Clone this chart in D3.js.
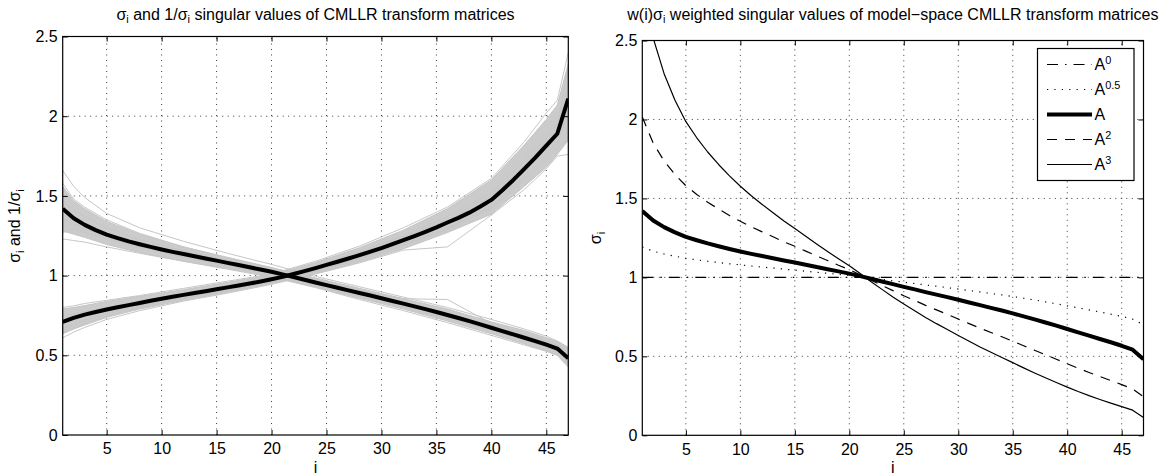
<!DOCTYPE html>
<html>
<head>
<meta charset="utf-8">
<script src="https://cdn.jsdelivr.net/npm/d3@7"></script>
<style>
  body { margin: 0; background: #fff; }
  svg text { font-family: "Liberation Sans", Arial, Helvetica, sans-serif; fill: #000; }
</style>
</head>
<body>
<svg id="fig" width="1159" height="475"></svg>
<script>
// ---- data -------------------------------------------------------------
const indexI = [1,2,3,4,5,6,7,8,9,10,11,12,13,14,15,16,17,18,19,20,21,22,23,24,
                25,26,27,28,29,30,31,32,33,34,35,36,37,38,39,40,41,42,43,44,45,46,47];

// mean singular values (increasing) and mean reciprocal (decreasing)
const meanSigma = [0.710,0.735,0.755,0.772,0.787,0.801,0.815,0.828,0.842,0.855,0.867,0.879,
                   0.891,0.902,0.914,0.926,0.938,0.950,0.963,0.977,0.992,1.010,1.028,1.047,
                   1.067,1.087,1.107,1.128,1.150,1.173,1.197,1.222,1.248,1.275,1.303,1.333,
                   1.362,1.395,1.433,1.475,1.535,1.600,1.670,1.740,1.815,1.890,2.110];
const meanInvSigma = [1.420,1.360,1.318,1.285,1.257,1.235,1.215,1.197,1.180,1.164,1.149,1.135,
                      1.121,1.107,1.094,1.080,1.066,1.052,1.038,1.024,1.008,0.991,0.974,0.957,
                      0.940,0.924,0.907,0.891,0.875,0.858,0.841,0.824,0.807,0.790,0.772,0.753,
                      0.734,0.714,0.694,0.673,0.652,0.631,0.610,0.589,0.567,0.542,0.482];

// per-speaker curves, sampled at these indices
const sampleI = [1,2,3,5,8,12,16,20,24,28,32,36,40,43,45,46,47];
const sigmaBandLo = [0.635,0.665,0.690,0.738,0.790,0.845,0.895,0.950,1.013,1.085,1.168,1.270,1.385,1.560,1.680,1.760,1.850];
const sigmaBandHi = [0.790,0.800,0.812,0.838,0.870,0.912,0.958,1.005,1.082,1.175,1.285,1.420,1.600,1.820,1.980,2.070,2.330];
const invBandLo   = [1.280,1.260,1.240,1.195,1.145,1.090,1.045,0.995,0.928,0.858,0.790,0.715,0.635,0.572,0.528,0.500,0.435];
const invBandHi   = [1.560,1.470,1.420,1.340,1.260,1.180,1.110,1.050,0.985,0.920,0.855,0.790,0.710,0.655,0.610,0.585,0.545];

const sigmaSpeakers = [
  [0.800,0.810,0.825,0.845,0.875,0.920,0.965,1.010,1.090,1.185,1.300,1.430,1.610,1.840,2.020,2.100,2.400],
  [0.610,0.645,0.675,0.725,0.780,0.840,0.890,0.945,1.010,1.080,1.160,1.180,1.380,1.540,1.670,1.750,1.760],
  [0.745,0.760,0.775,0.800,0.840,0.890,0.940,0.990,1.060,1.150,1.250,1.370,1.520,1.720,1.870,1.950,2.300],
  [0.665,0.695,0.720,0.760,0.810,0.862,0.910,0.965,1.030,1.110,1.200,1.300,1.430,1.620,1.760,1.830,2.020],
  [0.725,0.750,0.770,0.795,0.835,0.885,0.935,0.985,1.055,1.140,1.240,1.350,1.500,1.690,1.840,1.920,2.200],
  [0.640,0.670,0.700,0.745,0.800,0.855,0.905,0.960,1.025,1.100,1.190,1.290,1.420,1.600,1.730,1.800,1.860]
];
const invSpeakers = [
  [1.660,1.560,1.490,1.390,1.300,1.215,1.140,1.070,0.995,0.930,0.865,0.800,0.725,0.665,0.620,0.590,0.550],
  [1.230,1.220,1.210,1.180,1.140,1.090,1.040,0.990,0.925,0.850,0.780,0.705,0.625,0.565,0.525,0.500,0.425],
  [1.580,1.480,1.430,1.350,1.265,1.180,1.115,1.050,0.975,0.905,0.855,0.850,0.700,0.635,0.595,0.565,0.520],
  [1.270,1.290,1.270,1.230,1.175,1.115,1.060,1.005,0.940,0.870,0.800,0.730,0.655,0.595,0.550,0.525,0.460],
  [1.470,1.410,1.370,1.300,1.225,1.155,1.095,1.035,0.965,0.900,0.835,0.765,0.690,0.625,0.585,0.560,0.500],
  [1.360,1.320,1.290,1.240,1.180,1.120,1.065,1.015,0.945,0.880,0.812,0.740,0.660,0.600,0.555,0.530,0.470]
];

// weighted singular values, one series per weighting exponent
const weightA0 = [1,1,1,1,1,1,1,1,1,1,1,1,1,1,1,1,1,1,1,1,1,1,1,1,
                  1,1,1,1,1,1,1,1,1,1,1,1,1,1,1,1,1,1,1,1,1,1,1];
const weightA05 = [1.192,1.166,1.148,1.134,1.121,1.111,1.102,1.094,1.086,1.079,1.072,1.065,
                   1.059,1.052,1.046,1.039,1.032,1.026,1.019,1.012,1.004,0.995,0.987,0.978,
                   0.970,0.961,0.952,0.944,0.935,0.926,0.917,0.908,0.898,0.889,0.879,0.868,
                   0.857,0.845,0.833,0.820,0.807,0.794,0.781,0.767,0.753,0.736,0.700];
const weightA1 = meanInvSigma;
const weightA2 = [2.016,1.850,1.737,1.651,1.580,1.525,1.476,1.433,1.392,1.355,1.320,1.288,
                  1.257,1.225,1.197,1.166,1.136,1.107,1.077,1.049,1.016,0.982,0.949,0.916,
                  0.884,0.854,0.823,0.794,0.766,0.736,0.707,0.679,0.651,0.624,0.596,0.567,
                  0.539,0.510,0.482,0.453,0.425,0.398,0.372,0.347,0.321,0.294,0.245];
const weightA3 = [2.863,2.515,2.290,2.122,1.986,1.884,1.794,1.715,1.643,1.577,1.517,1.462,
                  1.409,1.357,1.309,1.260,1.211,1.164,1.118,1.074,1.024,0.973,0.924,0.876,
                  0.831,0.789,0.746,0.707,0.670,0.632,0.595,0.559,0.526,0.493,0.460,0.427,
                  0.395,0.364,0.334,0.305,0.277,0.251,0.227,0.204,0.182,0.159,0.112];

const xTickValues = [5,10,15,20,25,30,35,40,45];
const yTickValues = [0,0.5,1,1.5,2,2.5];
const legendExponents = ["0","0.5","","2","3"];

// ---- drawing ----------------------------------------------------------
const FONT = 16;
const svg = d3.select("#fig");
const defs = svg.append("defs");

// text with sub/superscript runs: [{t, sub:true}|{t, sup:true}|{t}]
function richText(sel, runs, size) {
  let shift = 0;
  runs.forEach(r => {
    const target = r.sub ? 3.5 : r.sup ? -6.5 : 0;
    sel.append("tspan")
      .attr("dy", target - shift)
      .attr("font-size", (r.sub || r.sup) ? size * 0.68 : size)
      .text(r.t);
    shift = target;
  });
}

function panel(cfg) {
  const g = svg.append("g");
  const x = d3.scaleLinear().domain([1, 47]).range([cfg.left, cfg.right]);
  const y = d3.scaleLinear().domain([0, 2.5]).range([cfg.bottom, cfg.top]);

  defs.append("clipPath").attr("id", cfg.id + "-clip")
    .append("rect")
    .attr("x", cfg.left).attr("y", cfg.top)
    .attr("width", cfg.right - cfg.left).attr("height", cfg.bottom - cfg.top);

  // dotted grid
  const grid = g.append("g")
    .attr("stroke", "#3a3a3a").attr("stroke-width", 1)
    .attr("stroke-dasharray", "1,4.5");
  grid.selectAll("line.v").data(xTickValues).join("line").attr("class", "v")
    .attr("x1", d => x(d)).attr("x2", d => x(d))
    .attr("y1", y(0)).attr("y2", y(2.5));
  grid.selectAll("line.h").data(yTickValues.filter(v => v > 0 && v < 2.5)).join("line").attr("class", "h")
    .attr("x1", x(1)).attr("x2", x(47))
    .attr("y1", d => y(d)).attr("y2", d => y(d));

  const plot = g.append("g").attr("clip-path", `url(#${cfg.id}-clip)`);

  return { g, x, y, plot, cfg };
}

function finishAxes(p, titleRuns, ylabelRuns, ylabelX, ylabelY) {
  const { g, x, y, cfg } = p;
  const styleAxis = a => {
    a.select(".domain").remove();
    a.attr("font-size", FONT).attr("font-family", null);
    a.selectAll(".tick line").attr("stroke", "#000");
  };
  g.append("g").attr("transform", `translate(0,${cfg.bottom})`)
    .call(d3.axisBottom(x).tickValues(xTickValues).tickSizeInner(-5).tickSizeOuter(0).tickPadding(8))
    .call(styleAxis);
  g.append("g").attr("transform", `translate(0,${cfg.top})`)
    .call(d3.axisTop(x).tickValues(xTickValues).tickSizeInner(-5).tickSizeOuter(0).tickFormat(""))
    .call(styleAxis);
  g.append("g").attr("transform", `translate(${cfg.left},0)`)
    .call(d3.axisLeft(y).tickValues(yTickValues).tickSizeInner(-5).tickSizeOuter(0).tickPadding(5).tickFormat(d => String(d)))
    .call(styleAxis);
  g.append("g").attr("transform", `translate(${cfg.right},0)`)
    .call(d3.axisRight(y).tickValues(yTickValues).tickSizeInner(-5).tickSizeOuter(0).tickFormat(""))
    .call(styleAxis);

  g.append("rect")
    .attr("x", cfg.left).attr("y", cfg.top)
    .attr("width", cfg.right - cfg.left).attr("height", cfg.bottom - cfg.top)
    .attr("fill", "none").attr("stroke", "#000").attr("stroke-width", 1.2);

  const mid = (cfg.left + cfg.right) / 2;
  const t = g.append("text").attr("x", mid).attr("y", 19.5)
    .attr("text-anchor", "middle").attr("font-size", FONT);
  richText(t, titleRuns, FONT);

  g.append("text").attr("x", mid).attr("y", 473)
    .attr("text-anchor", "middle").attr("font-size", FONT).text("i");

  const yl = g.append("text")
    .attr("transform", `translate(${ylabelX},${ylabelY}) rotate(-90)`)
    .attr("text-anchor", "middle").attr("font-size", FONT);
  richText(yl, ylabelRuns, FONT);
}

// ---------- left panel: sigma and 1/sigma ----------
const L = panel({ id: "left", left: 62.7, right: 568.3, top: 36.5, bottom: 435 });

const bandArea = d3.area()
  .x((d, k) => L.x(sampleI[k]))
  .y0(d => L.y(d[0])).y1(d => L.y(d[1]));
const sampleLine = d3.line().x((d, k) => L.x(sampleI[k])).y(d => L.y(d));

[[sigmaBandLo, sigmaBandHi], [invBandLo, invBandHi]].forEach(([lo, hi]) => {
  L.plot.append("path")
    .datum(lo.map((v, k) => [v, hi[k]]))
    .attr("d", bandArea)
    .attr("fill", "#cbcbcb").attr("stroke", "#c4c4c4").attr("stroke-width", 1);
});
sigmaSpeakers.concat(invSpeakers).forEach(s => {
  L.plot.append("path").datum(s).attr("d", sampleLine)
    .attr("fill", "none").attr("stroke", "#c6c6c6").attr("stroke-width", 1);
});

const meanLineL = d3.line().x((d, k) => L.x(indexI[k])).y(d => L.y(d));
[meanSigma, meanInvSigma].forEach(s => {
  L.plot.append("path").datum(s).attr("d", meanLineL)
    .attr("fill", "none").attr("stroke", "#000").attr("stroke-width", 4)
    .attr("stroke-linejoin", "round");
});

finishAxes(L,
  [{ t: "σ" }, { t: "i", sub: true }, { t: " and 1/σ" }, { t: "i", sub: true },
   { t: " singular values of CMLLR transform matrices" }],
  [{ t: "σ" }, { t: "i", sub: true }, { t: " and 1/σ" }, { t: "i", sub: true }],
  20, 226);

// ---------- right panel: weighted singular values ----------
const R = panel({ id: "right", left: 642.3, right: 1143.5, top: 40.5, bottom: 435.3 });
const lineR = d3.line().x((d, k) => R.x(indexI[k])).y(d => R.y(d));

const styles = [
  { data: weightA0,  width: 1.2, dash: "11,7,1.5,7" },
  { data: weightA05, width: 1.2, dash: "1.2,6.2" },
  { data: weightA1,  width: 4,   dash: null },
  { data: weightA2,  width: 1.2, dash: "10,8" },
  { data: weightA3,  width: 1.2, dash: null }
];
styles.forEach(s => {
  R.plot.append("path").datum(s.data).attr("d", lineR)
    .attr("fill", "none").attr("stroke", "#000")
    .attr("stroke-width", s.width)
    .attr("stroke-dasharray", s.dash)
    .attr("stroke-linejoin", "round");
});

finishAxes(R,
  [{ t: "w(i)σ" }, { t: "i", sub: true },
   { t: " weighted singular values of model\u2212space CMLLR transform matrices" }],
  [{ t: "σ" }, { t: "i", sub: true }],
  601, 238);

// legend
const leg = R.g.append("g");
leg.append("rect")
  .attr("x", 1037.5).attr("y", 48.5).attr("width", 96.5).attr("height", 132)
  .attr("fill", "#fff").attr("stroke", "#000").attr("stroke-width", 1.2);
const rowY = d3.scalePoint().domain(d3.range(legendExponents.length)).range([64.5, 164.5]);
legendExponents.forEach((e, k) => {
  const yy = rowY(k);
  leg.append("line")
    .attr("x1", 1047).attr("x2", 1092).attr("y1", yy).attr("y2", yy)
    .attr("stroke", "#000").attr("stroke-width", styles[k].width)
    .attr("stroke-dasharray", styles[k].dash);
  const t = leg.append("text").attr("x", 1094.5).attr("y", yy + 5.6).attr("font-size", FONT);
  const runs = [{ t: "A" }];
  if (e) runs.push({ t: e, sup: true });
  richText(t, runs, FONT);
});
</script>
</body>
</html>
